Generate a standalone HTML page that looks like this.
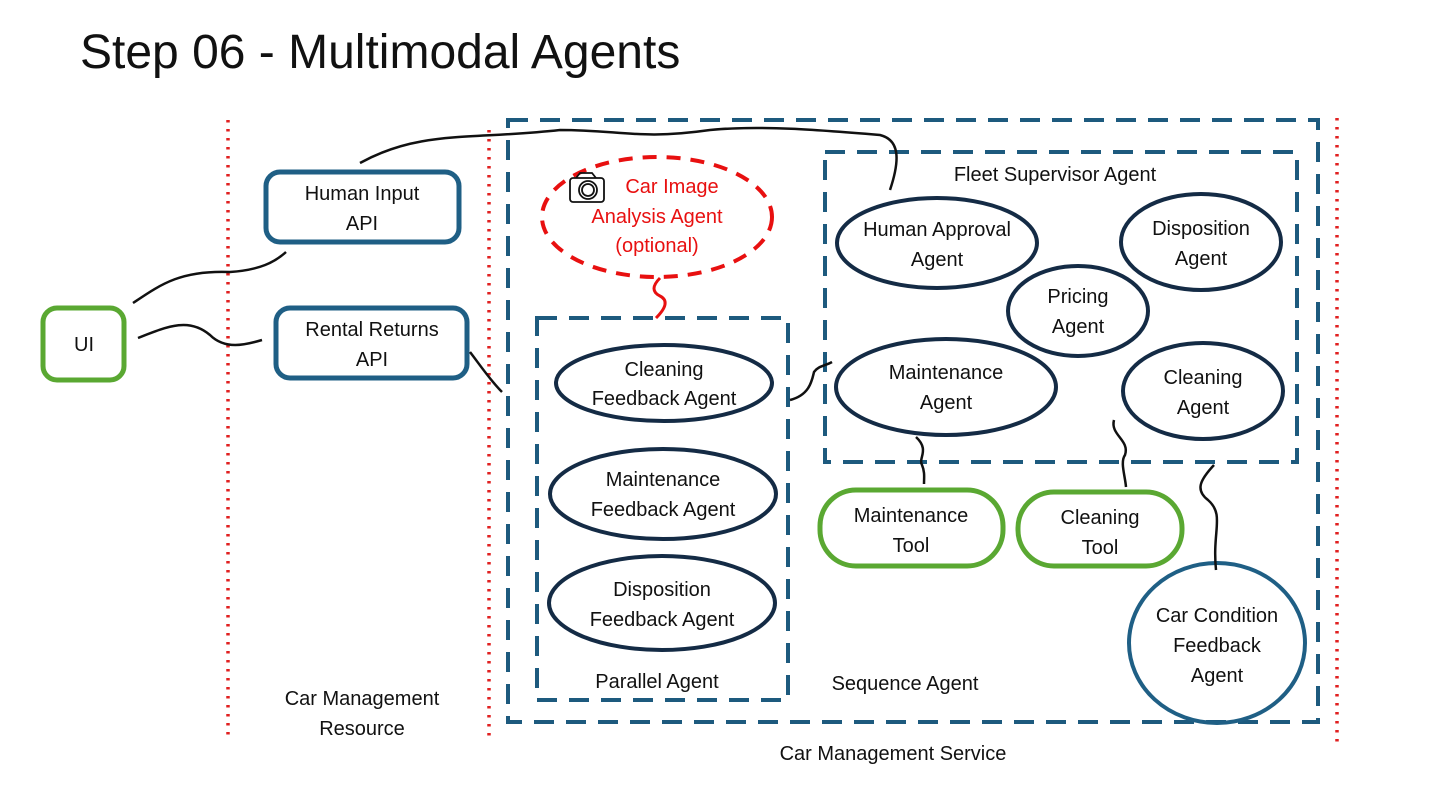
<!DOCTYPE html>
<html><head><meta charset="utf-8"><style>
html,body{margin:0;padding:0;background:#fff;}
svg{display:block}
text{font-family:"Liberation Sans",sans-serif;font-size:20px;fill:#111;text-anchor:middle;}
</style></head><body>
<svg width="1440" height="810" viewBox="0 0 1440 810" xmlns="http://www.w3.org/2000/svg">
<text x="80" y="68" style="font-size:48px;text-anchor:start">Step 06 - Multimodal Agents</text>
<g stroke="#e02020" stroke-width="3.5" stroke-dasharray="2.5 6.5" fill="none">
<line x1="228" y1="120" x2="228" y2="740"/>
<line x1="489" y1="130" x2="489" y2="742"/>
<line x1="1337" y1="118" x2="1337" y2="745"/>
</g>
<g fill="none" stroke="#1d5a7e" stroke-width="4" stroke-dasharray="20 12">
<rect x="508" y="120" width="810" height="602"/>
<rect x="825" y="152" width="472" height="310"/>
<rect x="537" y="318" width="251" height="382"/>
</g>
<g fill="none" stroke="#1f5f85" stroke-width="5">
<rect x="266" y="172" width="193" height="70" rx="14"/>
<rect x="276" y="308" width="191" height="70" rx="14"/>
</g>
<g fill="none" stroke="#5aa832" stroke-width="5">
<rect x="43" y="308" width="81" height="72" rx="14"/>
<rect x="820" y="490" width="183" height="76" rx="36"/>
<rect x="1018" y="492" width="164" height="74" rx="36"/>
</g>
<g fill="none" stroke="#142b45" stroke-width="4">
<ellipse cx="664" cy="383" rx="108" ry="38"/>
<ellipse cx="663" cy="494" rx="113" ry="45"/>
<ellipse cx="662" cy="603" rx="113" ry="47"/>
<ellipse cx="937" cy="243" rx="100" ry="45"/>
<ellipse cx="1201" cy="242" rx="80" ry="48"/>
<ellipse cx="1078" cy="311" rx="70" ry="45"/>
<ellipse cx="946" cy="387" rx="110" ry="48"/>
<ellipse cx="1203" cy="391" rx="80" ry="48"/>
</g>
<ellipse cx="1217" cy="643" rx="88" ry="80" fill="none" stroke="#1f5f85" stroke-width="4"/>
<ellipse cx="657" cy="217" rx="115" ry="60" fill="none" stroke="#e81010" stroke-width="4" stroke-dasharray="14 10"/>
<path d="M660 278 Q648 290 660 296 Q672 302 656 318" fill="none" stroke="#e81010" stroke-width="3"/>
<g fill="none" stroke="#111" stroke-width="2.5">
<path d="M360 163 C420 130 470 140 560 130 C620 130 640 140 710 130 C760 125 820 130 880 135 C900 140 900 160 890 190"/>
<path d="M133 303 C160 285 180 270 230 272 C260 270 275 262 286 252"/>
<path d="M138 338 C170 325 190 318 210 335 C225 350 245 345 262 340"/>
<path d="M470 352 C480 365 490 380 502 392"/>
<path d="M790 400 C810 395 812 380 814 372 C818 366 825 366 832 362"/>
<path d="M916 437 C930 450 918 458 922 465 C925 472 924 478 924 484"/>
<path d="M1114 420 C1110 435 1130 440 1125 455 C1120 462 1125 475 1126 487"/>
<path d="M1214 465 C1200 480 1195 490 1208 500 C1225 515 1212 530 1216 570"/>
</g>
<g fill="none" stroke="#111" stroke-width="1.8">
<rect x="570" y="178" width="34" height="24" rx="3"/>
<circle cx="588" cy="190" r="9"/><circle cx="588" cy="190" r="6"/>
<path d="M576 178 L580 173 L592 173 L596 178"/>
</g>
<text x="672" y="193" style="fill:#e81010">Car Image</text>
<text x="657" y="223" style="fill:#e81010">Analysis Agent</text>
<text x="657" y="252" style="fill:#e81010">(optional)</text>
<text x="362" y="200">Human Input</text><text x="362" y="230">API</text>
<text x="372" y="336">Rental Returns</text><text x="372" y="366">API</text>
<text x="84" y="351">UI</text>
<text x="664" y="376">Cleaning</text><text x="664" y="405">Feedback Agent</text>
<text x="663" y="486">Maintenance</text><text x="663" y="516">Feedback Agent</text>
<text x="662" y="596">Disposition</text><text x="662" y="626">Feedback Agent</text>
<text x="937" y="236">Human Approval</text><text x="937" y="266">Agent</text>
<text x="1201" y="235">Disposition</text><text x="1201" y="265">Agent</text>
<text x="1078" y="303">Pricing</text><text x="1078" y="333">Agent</text>
<text x="946" y="379">Maintenance</text><text x="946" y="409">Agent</text>
<text x="1203" y="384">Cleaning</text><text x="1203" y="414">Agent</text>
<text x="911" y="522">Maintenance</text><text x="911" y="552">Tool</text>
<text x="1100" y="524">Cleaning</text><text x="1100" y="554">Tool</text>
<text x="1217" y="622">Car Condition</text><text x="1217" y="652">Feedback</text><text x="1217" y="682">Agent</text>
<text x="1055" y="181">Fleet Supervisor Agent</text>
<text x="657" y="688">Parallel Agent</text>
<text x="905" y="690">Sequence Agent</text>
<text x="893" y="760">Car Management Service</text>
<text x="362" y="705">Car Management</text><text x="362" y="735">Resource</text>
</svg>
</body></html>
